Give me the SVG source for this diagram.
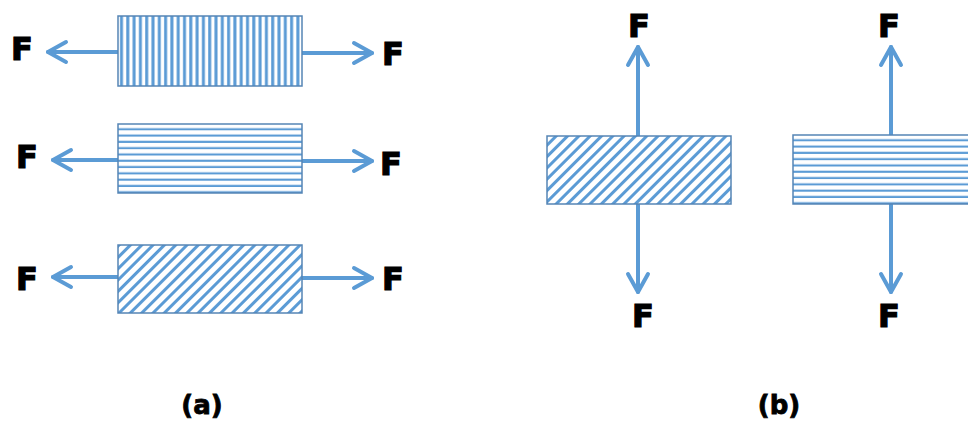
<svg xmlns="http://www.w3.org/2000/svg" width="968" height="421" viewBox="0 0 968 421">
  <style>
    .box { stroke: #5585B5; stroke-width: 1.5; }
    .arrow { stroke: #5B9BD5; stroke-width: 4; fill: none; stroke-linecap: round; stroke-linejoin: round; }
    .f { font-family: "DejaVu Sans", "Liberation Sans", sans-serif; font-weight: bold; font-size: 32px; fill: #000; stroke: #000; stroke-width: 1.2; }
    .cap { font-family: "DejaVu Sans", "Liberation Sans", sans-serif; font-weight: bold; font-size: 26px; fill: #000; stroke: #000; stroke-width: 0.8; text-anchor: middle; }
  </style>
  <defs>
    <pattern id="vlines" patternUnits="userSpaceOnUse" x="118" y="0" width="6.3" height="10">
      <rect width="6.3" height="10" fill="#fff"/>
      <rect x="2" width="3" height="10" fill="#5B9BD5"/>
    </pattern>
    <pattern id="hlines" patternUnits="userSpaceOnUse" x="0" y="124" width="10" height="6.3">
      <rect width="10" height="6.3" fill="#fff"/>
      <rect y="4.2" width="10" height="3" fill="#5B9BD5"/>
    </pattern>
    <pattern id="hlines2" patternUnits="userSpaceOnUse" x="0" y="135" width="10" height="6.3">
      <rect width="10" height="6.3" fill="#fff"/>
      <rect y="4.2" width="10" height="3" fill="#5B9BD5"/>
    </pattern>
    <pattern id="dlines" patternUnits="userSpaceOnUse" width="8" height="10" patternTransform="rotate(45)">
      <rect width="8" height="10" fill="#fff"/>
      <rect x="0" width="3" height="10" fill="#5B9BD5"/>
    </pattern>
    <marker id="head" markerUnits="userSpaceOnUse" viewBox="-22 -13 26 26" markerWidth="26" markerHeight="26" refX="0" refY="0" orient="auto" overflow="visible">
      <path d="M-18,-10 L0,0 L-18,10" fill="none" stroke="#5B9BD5" stroke-width="4" stroke-linecap="round" stroke-linejoin="round"/>
    </marker>
  </defs>

  <!-- connectors: force arrows -->
  <g id="connectors">
    <line class="arrow" x1="118" y1="52" x2="48" y2="52" marker-end="url(#head)"/>
    <line class="arrow" x1="302" y1="53" x2="372" y2="53" marker-end="url(#head)"/>
    <line class="arrow" x1="118" y1="160" x2="53" y2="160" marker-end="url(#head)"/>
    <line class="arrow" x1="302" y1="161" x2="372" y2="161" marker-end="url(#head)"/>
    <line class="arrow" x1="118" y1="277" x2="53" y2="277" marker-end="url(#head)"/>
    <line class="arrow" x1="302" y1="278" x2="372" y2="278" marker-end="url(#head)"/>
    <line class="arrow" x1="638" y1="136" x2="638" y2="47" marker-end="url(#head)"/>
    <line class="arrow" x1="638" y1="204" x2="638" y2="292" marker-end="url(#head)"/>
    <line class="arrow" x1="891" y1="135" x2="891" y2="47" marker-end="url(#head)"/>
    <line class="arrow" x1="891" y1="204" x2="891" y2="292" marker-end="url(#head)"/>
  </g>

  <!-- (a) specimens loaded along the length -->
  <g id="a-vertical">
    <rect class="box" x="118" y="16" width="184" height="70" fill="url(#vlines)"/>
  </g>
  <g id="a-horizontal">
    <rect class="box" x="118" y="124" width="184" height="69" fill="url(#hlines)"/>
  </g>
  <g id="a-diagonal">
    <rect class="box" x="118" y="245" width="184" height="68" fill="url(#dlines)"/>
  </g>

  <!-- (b) specimens loaded across the thickness -->
  <g id="b-diagonal">
    <rect class="box" x="547" y="136" width="184" height="68" fill="url(#dlines)"/>
  </g>
  <g id="b-horizontal">
    <rect class="box" x="793" y="135" width="190" height="69" fill="url(#hlines2)"/>
  </g>

  <!-- force labels -->
  <g id="labels">
    <text class="f" x="11" y="60">F</text>
    <text class="f" x="382" y="65">F</text>
    <text class="f" x="16" y="168">F</text>
    <text class="f" x="380" y="175">F</text>
    <text class="f" x="16" y="290">F</text>
    <text class="f" x="382" y="290">F</text>
    <text class="f" x="628" y="37">F</text>
    <text class="f" x="632" y="327">F</text>
    <text class="f" x="878" y="37">F</text>
    <text class="f" x="878" y="327">F</text>
  </g>

  <g id="captions">
    <text class="cap" x="202" y="414">(a)</text>
    <text class="cap" x="779" y="414">(b)</text>
  </g>
</svg>
